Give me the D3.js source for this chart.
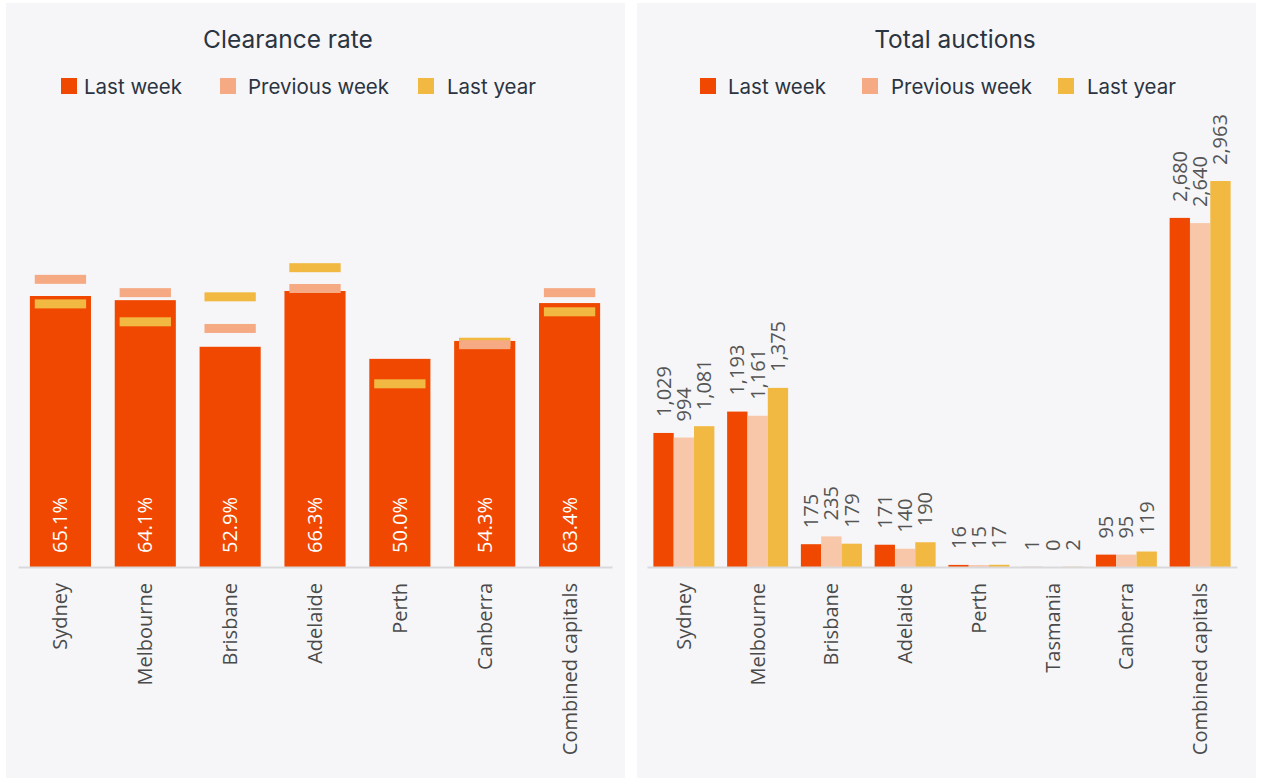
<!DOCTYPE html>
<html>
<head>
<meta charset="utf-8">
<script src="https://cdn.jsdelivr.net/npm/d3@7"></script>
<style>
  html, body { margin: 0; padding: 0; background: #ffffff; }
  svg { display: block; }
</style>
</head>
<body>
<svg id="chart" width="1264" height="783"></svg>
<script>
// ---------- Data ----------
const seriesNames = ["Last week", "Previous week", "Last year"];

const crCategories = ["Sydney", "Melbourne", "Brisbane", "Adelaide", "Perth", "Canberra", "Combined capitals"];
const crLastWeek  = [65.1, 64.1, 52.9, 66.3, 50.0, 54.3, 63.4];
const crPrevWeek  = [69.1, 65.9, 57.3, 66.9, null, 53.4, 65.9];
const crLastYear  = [63.2, 58.9, 64.9, 71.9, 44.0, 54.0, 61.3];

const taCategories = ["Sydney", "Melbourne", "Brisbane", "Adelaide", "Perth", "Tasmania", "Canberra", "Combined capitals"];
const taLastWeek  = [1029, 1193, 175, 171, 16, 1, 95, 2680];
const taPrevWeek  = [994, 1161, 235, 140, 15, 0, 95, 2640];
const taLastYear  = [1081, 1375, 179, 190, 17, 2, 119, 2963];

// ---------- Styles ----------
const RED = "#f04800", PINK = "#f6aa84", PINK_BAR = "#f8c7a9", YELLOW = "#f2b942";
const PANEL = "#f6f6f8", TITLE_C = "#2b3441", AXIS_TXT = "#4a4a4a", VAL_TXT = "#555555";
const TITLE_FONT = "Inter, 'Open Sans', sans-serif";
const LABEL_FONT = "'Open Sans', 'Noto Sans', sans-serif";

const svg = d3.select("#chart");
svg.append("rect").attr("width", 1264).attr("height", 783).attr("fill", "#ffffff");

// panels
svg.append("rect").attr("x", 6).attr("y", 3).attr("width", 619).attr("height", 775).attr("fill", PANEL);
svg.append("rect").attr("x", 637).attr("y", 3).attr("width", 619).attr("height", 775).attr("fill", PANEL);

function titleAndLegend(g, title, titleX, items, swatchColors) {
  g.append("text").attr("x", titleX).attr("y", 48)
    .attr("text-anchor", "middle").attr("font-family", TITLE_FONT)
    .attr("font-size", 24.5).attr("fill", TITLE_C).text(title);
  items.forEach((it, i) => {
    g.append("rect").attr("x", it.sx).attr("y", 78).attr("width", 16).attr("height", 16)
      .attr("fill", swatchColors[i]);
    g.append("text").attr("x", it.tx).attr("y", 93.5)
      .attr("font-family", TITLE_FONT).attr("font-size", 20.5)
      .attr("fill", TITLE_C).text(seriesNames[i]);
  });
}

// ================= Left: Clearance rate =================
const BASE = 567;
const xL = d3.scaleBand().domain(crCategories).range([18, 612]).paddingInner(0.28).paddingOuter(0.14);
const yL = d3.scaleLinear().domain([0, 100]).range([BASE, BASE - 416.3]);

const gL = svg.append("g");
titleAndLegend(gL, "Clearance rate", 288,
  [{sx: 61, tx: 84}, {sx: 220, tx: 248}, {sx: 418, tx: 447}],
  [RED, PINK, YELLOW]);

const crData = crCategories.map((c, i) => ({c, lw: crLastWeek[i], pw: crPrevWeek[i], ly: crLastYear[i]}));

gL.selectAll(".bar").data(crData).enter().append("rect")
  .attr("x", d => xL(d.c)).attr("width", xL.bandwidth())
  .attr("y", d => yL(d.lw)).attr("height", d => BASE - yL(d.lw))
  .attr("fill", RED);

const mW = xL.bandwidth() * 0.84, mH = 9;
gL.selectAll(".ly").data(crData.filter(d => d.ly != null)).enter().append("rect")
  .attr("x", d => xL(d.c) + (xL.bandwidth() - mW) / 2).attr("width", mW)
  .attr("y", d => yL(d.ly) - mH / 2).attr("height", mH).attr("fill", YELLOW);
gL.selectAll(".pw").data(crData.filter(d => d.pw != null)).enter().append("rect")
  .attr("x", d => xL(d.c) + (xL.bandwidth() - mW) / 2).attr("width", mW)
  .attr("y", d => yL(d.pw) - mH / 2).attr("height", mH).attr("fill", PINK);

// value labels inside bars
gL.selectAll(".vl").data(crData).enter().append("text")
  .attr("transform", d => `translate(${xL(d.c) + xL.bandwidth() / 2},${BASE - 14}) rotate(-90)`)
  .attr("dy", "0.35em").attr("text-anchor", "start")
  .attr("font-family", LABEL_FONT).attr("font-size", 20).attr("fill", "#ffffff")
  .text(d => d.lw.toFixed(1) + "%");

// axis
const axL = gL.append("g").attr("transform", `translate(0,${BASE})`)
  .call(d3.axisBottom(xL).tickSize(0).tickPadding(0));
axL.select(".domain").attr("stroke", "#d9d9dc").attr("stroke-width", 2);
axL.selectAll(".tick text")
  .attr("transform", "translate(0,16) rotate(-90)")
  .attr("text-anchor", "end").attr("dy", "0.35em").attr("y", 0).attr("x", 0)
  .attr("font-family", LABEL_FONT).attr("font-size", 20).attr("fill", AXIS_TXT);

// ================= Right: Total auctions =================
const xR = d3.scaleBand().domain(taCategories).range([647, 1237]).paddingInner(0.173).paddingOuter(0.0865);
const xSub = d3.scaleBand().domain(["lw", "pw", "ly"]).range([0, xR.bandwidth()]);
const yR = d3.scaleLinear().domain([0, 3000]).range([BASE, BASE - 390.8]);

const gR = svg.append("g");
titleAndLegend(gR, "Total auctions", 955,
  [{sx: 700, tx: 728}, {sx: 862, tx: 891}, {sx: 1058, tx: 1087}],
  [RED, PINK, YELLOW]);

const subColors = {lw: RED, pw: PINK_BAR, ly: YELLOW};
const taFlat = [];
taCategories.forEach((c, i) => {
  taFlat.push({c, k: "lw", v: taLastWeek[i]});
  taFlat.push({c, k: "pw", v: taPrevWeek[i]});
  taFlat.push({c, k: "ly", v: taLastYear[i]});
});

gR.selectAll(".tb").data(taFlat).enter().append("rect")
  .attr("x", d => xR(d.c) + xSub(d.k)).attr("width", xSub.bandwidth())
  .attr("y", d => yR(d.v)).attr("height", d => BASE - yR(d.v))
  .attr("fill", d => subColors[d.k]);

const fmt = d3.format(",");
gR.selectAll(".tl").data(taFlat).enter().append("text")
  .attr("transform", d => `translate(${xR(d.c) + xSub(d.k) + xSub.bandwidth() / 2},${yR(d.v) - 16}) rotate(-90)`)
  .attr("dy", "0.35em").attr("text-anchor", "start")
  .attr("font-family", LABEL_FONT).attr("font-size", 20).attr("fill", VAL_TXT)
  .text(d => fmt(d.v));

const axR = gR.append("g").attr("transform", `translate(0,${BASE})`)
  .call(d3.axisBottom(xR).tickSize(0).tickPadding(0));
axR.select(".domain").attr("stroke", "#d9d9dc").attr("stroke-width", 2);
axR.selectAll(".tick text")
  .attr("transform", "translate(0,16) rotate(-90)")
  .attr("text-anchor", "end").attr("dy", "0.35em").attr("y", 0).attr("x", 0)
  .attr("font-family", LABEL_FONT).attr("font-size", 20).attr("fill", AXIS_TXT);
</script>
</body>
</html>
